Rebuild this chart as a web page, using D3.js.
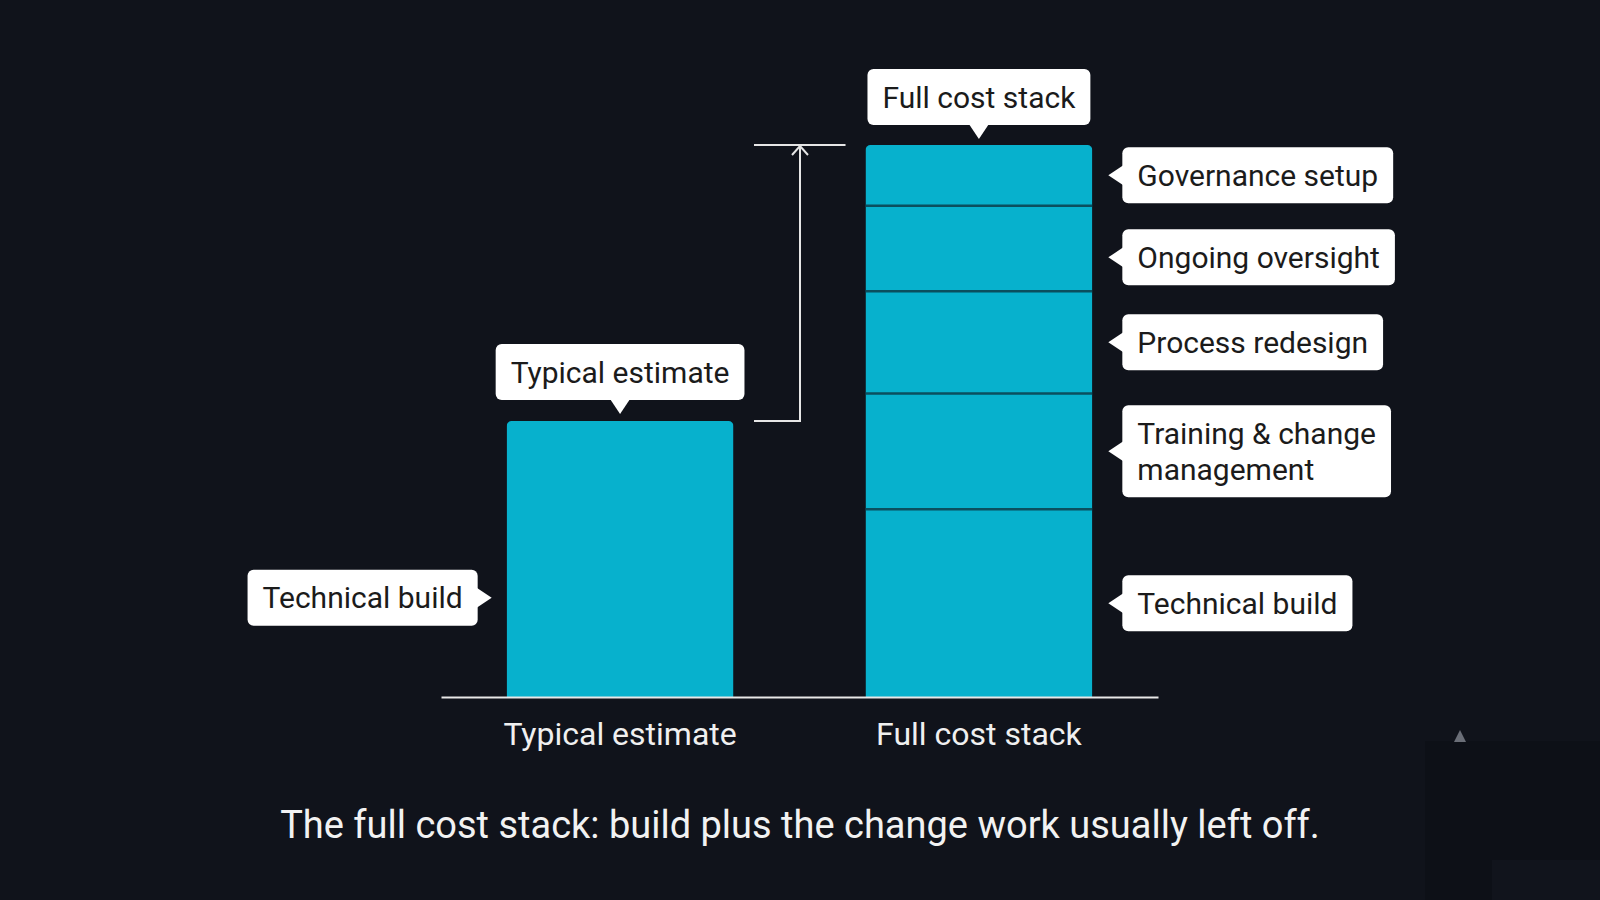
<!DOCTYPE html>
<html>
<head>
<meta charset="utf-8">
<script src="https://d3js.org/d3.v7.min.js"></script>
<style>
  body { margin: 0; background: #10131b; }
  svg { display: block; font-family: Roboto, "Noto Sans", sans-serif; }
</style>
</head>
<body>
<svg width="1600" height="900"></svg>

<script>
// bars on the x axis
var categories = ["Typical estimate", "Full cost stack"];

// segments, bottom to top (share of the full stack)
var typicalSegments = ["Technical build"];
var typicalValues = [50];

var fullSegments = ["Technical build", "Training & change\nmanagement", "Process redesign", "Ongoing oversight", "Governance setup"];
var fullValues = [34, 21, 18.5, 15.5, 11];

var caption = "The full cost stack: build plus the change work usually left off.";

const W = 1600, H = 900;
const barColor = "#07b1cd", divColor = "#0b4f5e", bg = "#10131b";
const svg = d3.select("svg");

svg.append("rect").attr("width", W).attr("height", H).attr("fill", bg);
// video-player remnants in the lower right corner
svg.append("rect").attr("x", 1425).attr("y", 741).attr("width", 175).attr("height", 159).attr("fill", "#0d1017");
svg.append("rect").attr("x", 1492).attr("y", 860).attr("width", 108).attr("height", 40).attr("fill", "#11141c");
svg.append("path").attr("d", "M1454,742 L1460,730 L1466,742 Z").attr("fill", "#6a6e77");

var x = d3.scaleBand()
  .domain(categories)
  .range([441, 1158])
  .paddingInner(0.368)
  .paddingOuter(0.183);

var y = d3.scaleLinear()
  .domain([0, 100])
  .range([697, 145]);

function stack(names, vals) {
  var out = [], acc = 0;
  vals.forEach(function(v, i) {
    out.push({name: names[i], y0: acc, y1: acc + v});
    acc += v;
  });
  return out;
}

var bars = [
  {cat: categories[0], segs: stack(typicalSegments, typicalValues)},
  {cat: categories[1], segs: stack(fullSegments, fullValues)}
];

var defs = svg.append("defs");

bars.forEach(function(b, bi) {
  var total = b.segs[b.segs.length - 1].y1;
  var x0 = x(b.cat), bw = x.bandwidth();

  defs.append("clipPath").attr("id", "clip" + bi)
    .append("rect")
      .attr("x", x0).attr("y", y(total))
      .attr("width", bw).attr("height", y(0) - y(total) + 10)
      .attr("rx", 5);

  var g = svg.append("g").attr("clip-path", "url(#clip" + bi + ")");

  g.selectAll("rect")
    .data(b.segs)
    .enter()
    .append("rect")
      .attr("x", x0)
      .attr("y", function(d) { return y(d.y1); })
      .attr("width", bw)
      .attr("height", function(d) { return y(d.y0) - y(d.y1); })
      .attr("fill", barColor);

  g.selectAll("line")
    .data(b.segs.slice(1))
    .enter()
    .append("line")
      .attr("x1", x0).attr("x2", x0 + bw)
      .attr("y1", function(d) { return y(d.y0); })
      .attr("y2", function(d) { return y(d.y0); })
      .attr("stroke", divColor)
      .attr("stroke-width", 2.5);
});

// x axis
var xAx = svg.append("g")
  .attr("transform", "translate(0," + y(0) + ")")
  .call(d3.axisBottom(x).tickSize(0).tickSizeOuter(0).tickPadding(25));
xAx.select(".domain").attr("stroke", "#e8e8e8").attr("stroke-width", 2);
xAx.selectAll("text")
  .attr("fill", "#f0f0f0")
  .style("font-size", "32px")
  .style("font-family", "Roboto, sans-serif");

// callout: white rounded box with a small pointer, tip at (tx, ty)
function callout(text, tx, ty, side) {
  var lines = text.split("\n");
  var g = svg.append("g");
  var fs = 30, padX = 15, lineH = 36, ptr = 14, ptrHalf = 10;
  var boxH = lines.length == 1 ? 56 : 92;
  var t = g.append("text")
    .style("font-size", fs + "px")
    .attr("fill", "#1b1b1b");
  lines.forEach(function(l, i) {
    t.append("tspan").attr("x", 0).attr("dy", i == 0 ? 0 : lineH).text(l);
  });
  var tw = d3.max(t.selectAll("tspan").nodes(), function(n) { return n.getComputedTextLength(); });
  var boxW = tw + 2 * padX;
  var bx, by, tri;
  if (side == "down") {
    bx = tx - boxW / 2; by = ty - ptr - boxH;
    tri = [[tx - ptrHalf, by + boxH - 1], [tx, ty], [tx + ptrHalf, by + boxH - 1]];
  } else if (side == "left") {
    bx = tx + ptr; by = ty - boxH / 2;
    tri = [[bx + 1, ty - ptrHalf], [tx, ty], [bx + 1, ty + ptrHalf]];
  } else {
    bx = tx - ptr - boxW; by = ty - boxH / 2;
    tri = [[bx + boxW - 1, ty - ptrHalf], [tx, ty], [bx + boxW - 1, ty + ptrHalf]];
  }
  g.insert("rect", "text")
    .attr("x", bx).attr("y", by)
    .attr("width", boxW).attr("height", boxH)
    .attr("rx", 6)
    .attr("fill", "#ffffff");
  g.insert("path", "text")
    .attr("d", d3.line()(tri) + "Z")
    .attr("fill", "#ffffff");
  // vertically centre the cap height of the block
  var first = by + boxH / 2 - (lines.length - 1) * lineH / 2 + fs * 0.355;
  t.attr("transform", "translate(" + (bx + padX) + "," + first + ")");
}

var cx0 = x(categories[0]) + x.bandwidth() / 2;
var cx1 = x(categories[1]) + x.bandwidth() / 2;
var tot0 = d3.sum(typicalValues), tot1 = d3.sum(fullValues);

callout(categories[0], cx0, y(tot0) - 7, "down");
callout(categories[1], cx1, y(tot1) - 6, "down");
callout(typicalSegments[0], x(categories[0]) - 15, y(18), "right");

// right-hand labels, top to bottom, kept a minimum distance apart
var prev = -Infinity;
bars[1].segs.slice().reverse().forEach(function(d) {
  var cy = Math.max(y((d.y0 + d.y1) / 2), prev + 82);
  prev = cy;
  callout(d.name, x(categories[1]) + x.bandwidth() + 16, cy, "left");
});

// bracket showing the gap between the two totals
var bx = 800, gl = 754;
var br = svg.append("g")
  .attr("fill", "none")
  .attr("stroke", "#e6e6e6")
  .attr("stroke-width", 2);
br.append("path").attr("d", "M" + gl + "," + y(tot0) + " H" + bx + " V" + y(tot1));
br.append("path").attr("d", "M" + gl + "," + y(tot1) + " H" + (x(categories[1]) - 20));
br.append("path").attr("d", "M" + (bx - 8) + "," + (y(tot1) + 10) + " L" + bx + "," + (y(tot1) + 1) + " L" + (bx + 8) + "," + (y(tot1) + 10));

// caption
svg.append("text")
  .attr("x", 800)
  .attr("y", 838)
  .attr("text-anchor", "middle")
  .attr("fill", "#f2f2f2")
  .style("font-size", "38px")
  .text(caption);
</script>
</body>
</html>
